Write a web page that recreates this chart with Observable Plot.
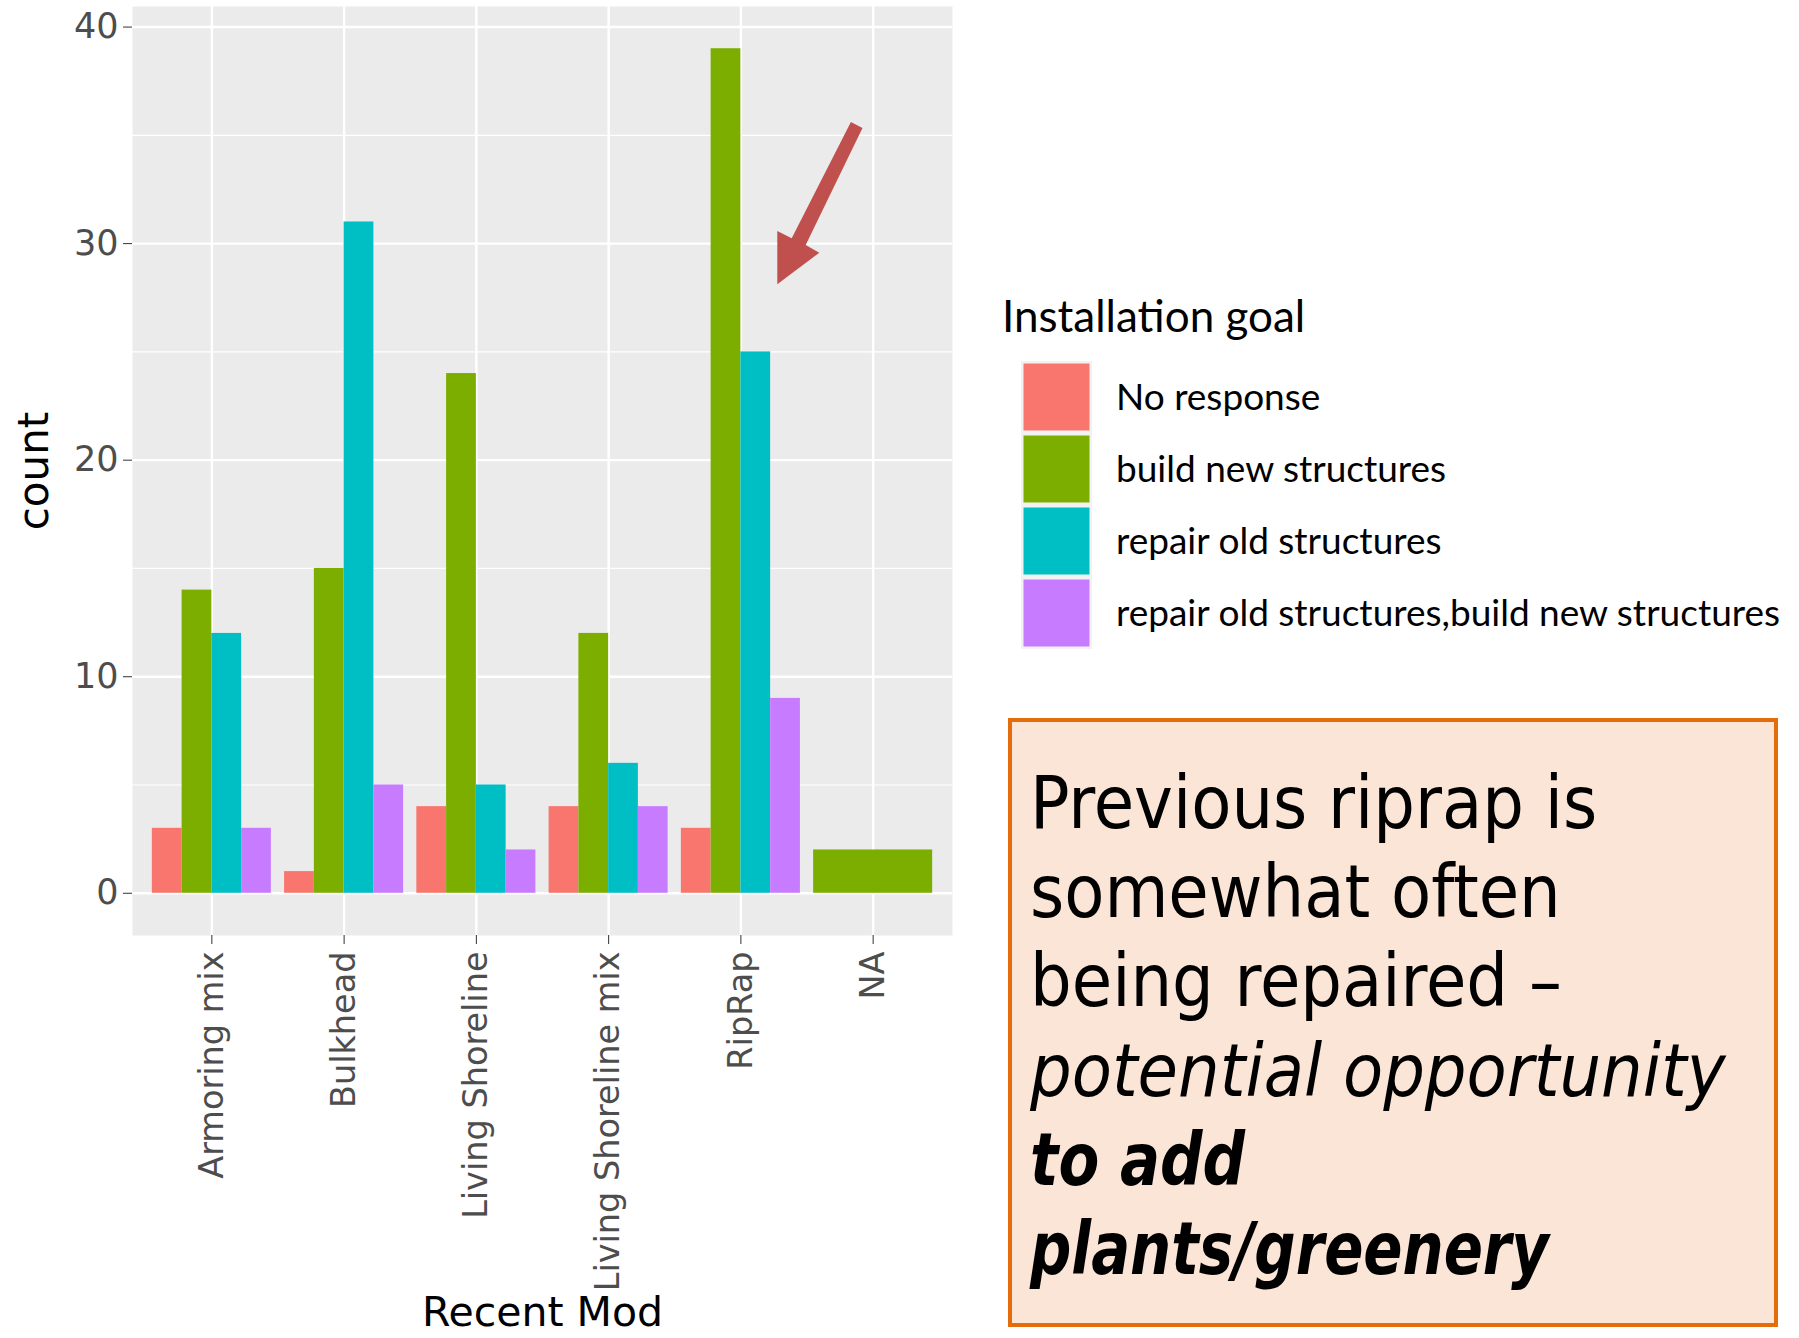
<!DOCTYPE html>
<html>
<head>
<meta charset="utf-8">
<script src="https://cdn.jsdelivr.net/npm/d3@7"></script>
<script src="https://cdn.jsdelivr.net/npm/@observablehq/plot@0.6"></script>
<style>
  html, body { margin: 0; padding: 0; background: white; }
  #wrap { position: relative; width: 1799px; height: 1338px; overflow: hidden; }
  #overlay { position: absolute; left: 0; top: 0; pointer-events: none; }
</style>
</head>
<body>
<div id="wrap"></div>
<script>
// ---- data ----
const categories = ["Armoring mix", "Bulkhead", "Living Shoreline", "Living Shoreline mix", "RipRap", "NA"];
const goals = ["No response", "build new structures", "repair old structures", "repair old structures,build new structures"];
const goalColors = ["#F8766D", "#7CAE00", "#00BFC4", "#C77CFF"];
const noResponse     = [3, 1, 4, 4, 3, null];
const buildNew       = [14, 15, 24, 12, 39, 2];
const repairOld      = [12, 31, 5, 6, 25, null];
const repairAndBuild = [3, 5, 2, 4, 9, null];
const yTicks = [0, 10, 20, 30, 40];
const yMinorTicks = [5, 15, 25, 35];
const legendTitle = "Installation goal";
const xTitle = "Recent Mod";
const yTitle = "count";
const noteLines = [
  {text: "Previous riprap is", style: "normal", weight: "normal"},
  {text: "somewhat often", style: "normal", weight: "normal"},
  {text: "being repaired \u2013", style: "normal", weight: "normal"},
  {text: "potential opportunity", style: "italic", weight: "normal"},
  {text: "to add", style: "italic", weight: "bold", fit: 215},
  {text: "plants/greenery", style: "italic", weight: "bold", fit: 519}
];

// ---- dodge positions (ggplot position_dodge, width 0.9) ----
const series = [noResponse, buildNew, repairOld, repairAndBuild];
const rows = [];
categories.forEach((cat, i) => {
  const present = goals.map((g, k) => ({goal: g, value: series[k][i]})).filter(d => d.value != null);
  const w = 0.9 / present.length;
  present.forEach((d, j) => {
    rows.push({category: cat, goal: d.goal, value: d.value, x1: i - 0.45 + j * w, x2: i - 0.45 + (j + 1) * w});
  });
});

const W = 1799, H = 1338;
const chart = Plot.plot({
  width: W, height: H,
  marginLeft: 132, marginRight: W - 952, marginTop: 6, marginBottom: H - 935,
  x: {type: "linear", domain: [-0.6, categories.length - 0.4]},
  y: {domain: [-1.95, 40.95]},
  color: {domain: goals, range: goalColors},
  style: {fontFamily: "DejaVu Sans, sans-serif", background: "white", color: "#4D4D4D"},
  marks: [
    Plot.frame({fill: "#EBEBEB", stroke: null}),
    Plot.gridY(yMinorTicks, {stroke: "white", strokeOpacity: 1, strokeWidth: 1.2}),
    Plot.gridY(yTicks, {stroke: "white", strokeOpacity: 1, strokeWidth: 2.4}),
    Plot.gridX(d3.range(categories.length), {stroke: "white", strokeOpacity: 1, strokeWidth: 2.4}),
    Plot.rect(rows, {x1: "x1", x2: "x2", y1: 0, y2: "value", fill: "goal"}),
    Plot.axisY(yTicks, {tickSize: 9, tickPadding: 5, fontSize: 35, stroke: "#333333", fill: "#4D4D4D", label: null}),
    Plot.axisX(d3.range(categories.length), {tickFormat: i => categories[i], tickRotate: -90, tickSize: 9, tickPadding: 7, fontSize: 33.5, stroke: "#333333", fill: "#4D4D4D", label: null}),
    Plot.text([yTitle], {frameAnchor: "left", textAnchor: "middle", dx: -98, rotate: -90, fontSize: 42, fill: "black"}),
    Plot.text([xTitle], {frameAnchor: "bottom", dy: 390, fontSize: 41, fill: "black"})
  ]
});
const wrap = document.getElementById("wrap");
wrap.appendChild(chart);

// ---- overlay: legend, arrow, annotation box ----
const ov = d3.select(wrap).append("svg").attr("id", "overlay").attr("width", W).attr("height", H);

// legend
const lg = ov.append("g");
lg.append("text").attr("x", 1002).attr("y", 332)
  .attr("font-family", "Lato, 'Open Sans', sans-serif").attr("font-size", 44).attr("fill", "black")
  .text(legendTitle);
const keyTop = 361, keyStep = 72, keyX = 1021, keyW = 71;
lg.append("rect").attr("x", keyX).attr("y", keyTop).attr("width", keyW).attr("height", keyStep * goals.length)
  .attr("fill", "#F2F2F2");
goals.forEach((g, k) => {
  lg.append("rect").attr("x", keyX + 2.5).attr("y", keyTop + k * keyStep + 2.5)
    .attr("width", keyW - 5).attr("height", keyStep - 5).attr("fill", goalColors[k]);
  lg.append("text").attr("x", 1116).attr("y", keyTop + k * keyStep + keyStep / 2 + 13)
    .attr("font-family", "Lato, 'Open Sans', sans-serif").attr("font-size", 37).attr("fill", "black")
    .text(g);
});

// arrow
ov.append("polygon")
  .attr("points", [[850.9,122.1],[862.5,127.9],[805.7,245],[819.3,252.7],[777.3,284.3],[777.3,231],[791.7,238.3]].map(p => p.join(",")).join(" "))
  .attr("fill", "#C0504D");

// annotation box
ov.append("rect").attr("x", 1010).attr("y", 720).attr("width", 766).attr("height", 605)
  .attr("fill", "#FBE5D6").attr("stroke", "#E46C0A").attr("stroke-width", 4);
noteLines.forEach((l, i) => {
  const t = ov.append("text").attr("x", 1030).attr("y", 828 + i * 89.2)
    .attr("font-family", "'DejaVu Sans Condensed', 'DejaVu Sans', sans-serif")
    .style("font-stretch", "condensed")
    .attr("font-size", 73).attr("font-style", l.style).attr("font-weight", l.weight)
    .attr("fill", "black").text(l.text);
  if (l.fit) t.attr("textLength", l.fit).attr("lengthAdjust", "spacingAndGlyphs");
});
</script>
</body>
</html>
